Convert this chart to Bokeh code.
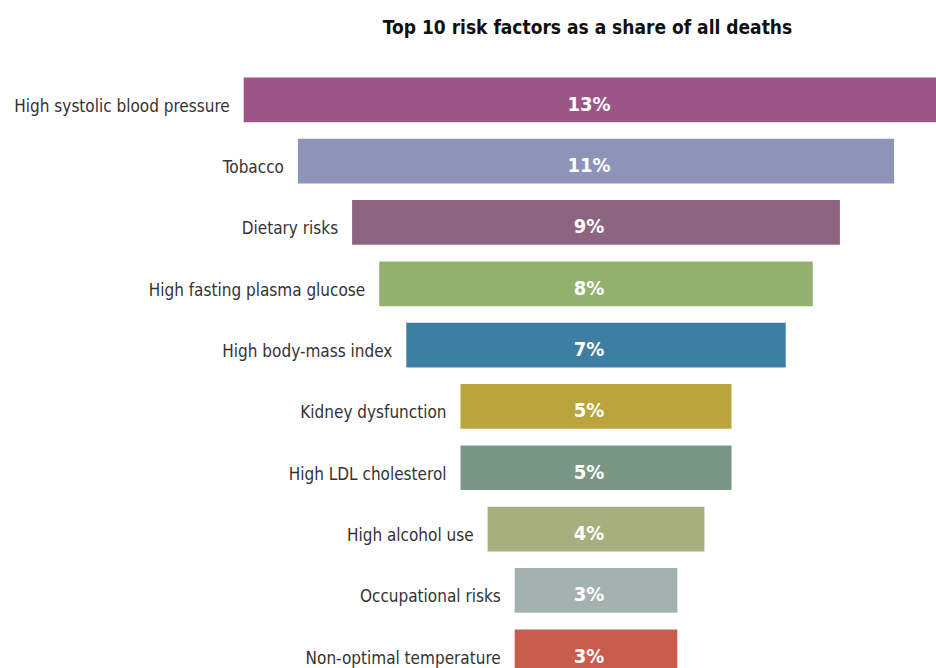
from bokeh.plotting import figure
from bokeh.models import ColumnDataSource, Range1d, Label
from bokeh.core.properties import value
from bokeh.embed import file_html
from bokeh.resources import INLINE

categories = ["High systolic blood pressure", "Tobacco", "Dietary risks",
              "High fasting plasma glucose", "High body-mass index",
              "Kidney dysfunction", "High LDL cholesterol", "High alcohol use",
              "Occupational risks", "Non-optimal temperature"]
shares = [13, 11, 9, 8, 7, 5, 5, 4, 3, 3]
colors = ["#9c5587", "#8d94b7", "#8e6580", "#93b06f", "#3f7ea3",
          "#b9a43e", "#7a9684", "#a6af7d", "#a4b1b1", "#c95c4d"]

FONT = "DejaVu Sans Condensed"

rows = list(range(len(categories)))
src = ColumnDataSource(dict(
    y=rows,
    left=[-v / 2 for v in shares],
    right=[v / 2 for v in shares],
    mid=[0] * len(shares),
    cat=categories,
    lab=[f"{v}%" for v in shares],
    color=colors,
))

W, H = 936, 668
p = figure(width=W, height=H, output_backend="svg", toolbar_location=None,
           x_axis_type=None, y_axis_type=None, min_border=0,
           x_range=Range1d(-10.987, 6.282), y_range=Range1d(9.273, -1.619))
p.outline_line_color = None
p.grid.visible = False
p.background_fill_color = "white"
p.border_fill_color = "white"

p.hbar(y="y", left="left", right="right", height=0.729, color="color",
       line_color=None, source=src)

p.text(x="left", y="y", text="cat", source=src, x_offset=-14, y_offset=6,
       text_align="right", text_baseline="middle", text_font=value(FONT),
       text_font_size="17px", text_color="#333333")

p.text(x="mid", y="y", text="lab", source=src, x_offset=-7, y_offset=4,
       text_align="center", text_baseline="middle", text_font=value(FONT),
       text_font_size="20px", text_font_style="bold", text_color="white")

title = Label(x=587, y=H - 26, x_units="screen", y_units="screen",
              text="Top 10 risk factors as a share of all deaths",
              text_align="center", text_baseline="middle", text_font=FONT,
              text_font_size="19px", text_font_style="bold", text_color="#111111")
p.add_layout(title)

open("out.html", "w").write(file_html(p, INLINE))
